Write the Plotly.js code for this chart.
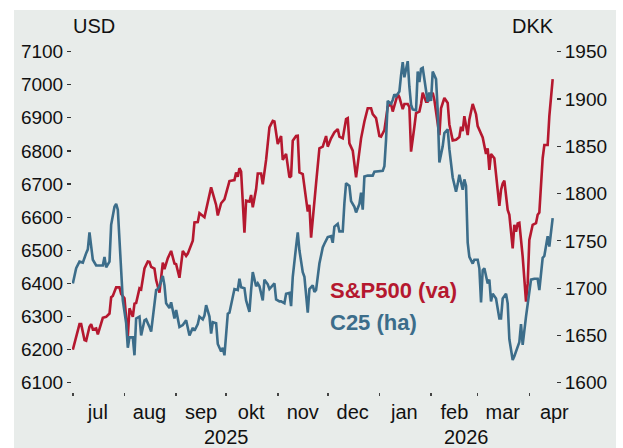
<!DOCTYPE html>
<html>
<head>
<meta charset="utf-8">
<script src="https://cdn.plot.ly/plotly-3.0.1.min.js"></script>
<style>html,body{margin:0;padding:0;background:#fff;}#chart{width:623px;height:448px;}</style>
</head>
<body>
<div id="chart"></div>
<script>
// ---- data ----
const spDates = ["2025-07-01","2025-07-05","2025-07-06","2025-07-08","2025-07-09","2025-07-11","2025-07-12","2025-07-13","2025-07-15","2025-07-16","2025-07-19","2025-07-21","2025-07-23","2025-07-24","2025-07-25","2025-07-27","2025-07-29","2025-07-30","2025-08-01","2025-08-03","2025-08-04","2025-08-06","2025-08-07","2025-08-08","2025-08-10","2025-08-11","2025-08-13","2025-08-15","2025-08-16","2025-08-17","2025-08-19","2025-08-20","2025-08-22","2025-08-24","2025-08-25","2025-08-27","2025-08-29","2025-08-31","2025-09-01","2025-09-03","2025-09-05","2025-09-07","2025-09-08","2025-09-11","2025-09-12","2025-09-14","2025-09-15","2025-09-17","2025-09-18","2025-09-22","2025-09-24","2025-09-25","2025-09-26","2025-09-28","2025-09-30","2025-10-02","2025-10-03","2025-10-06","2025-10-07","2025-10-08","2025-10-09","2025-10-10","2025-10-12","2025-10-13","2025-10-15","2025-10-16","2025-10-17","2025-10-19","2025-10-20","2025-10-22","2025-10-23","2025-10-25","2025-10-27","2025-10-29","2025-10-30","2025-11-01","2025-11-03","2025-11-04","2025-11-06","2025-11-08","2025-11-09","2025-11-10","2025-11-12","2025-11-13","2025-11-14","2025-11-16","2025-11-18","2025-11-19","2025-11-20","2025-11-21","2025-11-24","2025-11-26","2025-11-28","2025-11-30","2025-12-01","2025-12-03","2025-12-05","2025-12-07","2025-12-08","2025-12-10","2025-12-12","2025-12-13","2025-12-14","2025-12-16","2025-12-18","2025-12-21","2025-12-23","2025-12-25","2025-12-27","2025-12-28","2025-12-30","2026-01-01","2026-01-02","2026-01-04","2026-01-06","2026-01-08","2026-01-09","2026-01-10","2026-01-12","2026-01-13","2026-01-15","2026-01-16","2026-01-18","2026-01-19","2026-01-20","2026-01-22","2026-01-23","2026-01-25","2026-01-26","2026-01-27","2026-01-29","2026-01-30","2026-01-31","2026-02-02","2026-02-03","2026-02-05","2026-02-06","2026-02-07","2026-02-09","2026-02-11","2026-02-12","2026-02-14","2026-02-16","2026-02-18","2026-02-19","2026-02-20","2026-02-21","2026-02-23","2026-02-24","2026-02-26","2026-02-28","2026-03-01","2026-03-03","2026-03-04","2026-03-06","2026-03-07","2026-03-08","2026-03-09","2026-03-11","2026-03-12","2026-03-14","2026-03-15","2026-03-16","2026-03-17","2026-03-19","2026-03-20","2026-03-22","2026-03-23","2026-03-24","2026-03-25","2026-03-26","2026-03-28","2026-03-29","2026-03-30","2026-03-31","2026-04-01","2026-04-03","2026-04-05","2026-04-06","2026-04-07","2026-04-09","2026-04-10","2026-04-12","2026-04-13","2026-04-15"];
const spValues = [6200,6277,6277,6229,6227,6269,6277,6261,6264,6246,6296,6299,6309,6358,6362,6388,6388,6368,6355,6239,6325,6299,6339,6341,6385,6382,6445,6466,6465,6450,6445,6410,6372,6463,6443,6476,6498,6460,6458,6417,6498,6483,6490,6529,6584,6585,6612,6605,6600,6690,6652,6637,6605,6642,6654,6692,6709,6712,6735,6722,6748,6738,6553,6650,6647,6667,6630,6684,6732,6732,6699,6773,6871,6891,6889,6821,6845,6773,6791,6720,6724,6831,6845,6846,6735,6730,6657,6617,6637,6538,6702,6808,6813,6845,6813,6838,6856,6866,6843,6838,6896,6899,6823,6801,6720,6838,6889,6929,6929,6911,6899,6845,6843,6863,6934,6942,6919,6939,6972,6962,6926,6942,6942,6932,6798,6873,6914,6919,6942,6976,6949,6949,6956,6976,6954,6883,6848,6929,6960,6945,6880,6832,6834,6842,6873,6860,6905,6848,6895,6942,6911,6875,6848,6841,6791,6808,6743,6791,6778,6735,6634,6682,6702,6710,6622,6607,6506,6577,6556,6581,6583,6481,6400,6345,6400,6531,6577,6582,6607,6614,6778,6818,6818,6905,7017];

const c25Dates = ["2025-07-01","2025-07-03","2025-07-05","2025-07-07","2025-07-09","2025-07-10","2025-07-11","2025-07-12","2025-07-13","2025-07-15","2025-07-17","2025-07-19","2025-07-20","2025-07-21","2025-07-23","2025-07-24","2025-07-26","2025-07-27","2025-07-28","2025-07-30","2025-07-31","2025-08-02","2025-08-03","2025-08-04","2025-08-06","2025-08-07","2025-08-08","2025-08-10","2025-08-11","2025-08-13","2025-08-14","2025-08-16","2025-08-17","2025-08-20","2025-08-21","2025-08-22","2025-08-24","2025-08-25","2025-08-26","2025-08-28","2025-08-29","2025-08-31","2025-09-01","2025-09-03","2025-09-05","2025-09-07","2025-09-09","2025-09-11","2025-09-12","2025-09-14","2025-09-15","2025-09-17","2025-09-18","2025-09-19","2025-09-21","2025-09-22","2025-09-23","2025-09-25","2025-09-26","2025-09-28","2025-09-29","2025-09-30","2025-10-02","2025-10-03","2025-10-05","2025-10-06","2025-10-08","2025-10-09","2025-10-10","2025-10-12","2025-10-13","2025-10-15","2025-10-16","2025-10-17","2025-10-19","2025-10-20","2025-10-21","2025-10-23","2025-10-24","2025-10-26","2025-10-27","2025-10-29","2025-10-30","2025-10-31","2025-11-02","2025-11-03","2025-11-05","2025-11-06","2025-11-08","2025-11-09","2025-11-10","2025-11-12","2025-11-13","2025-11-14","2025-11-16","2025-11-17","2025-11-19","2025-11-20","2025-11-22","2025-11-23","2025-11-24","2025-11-26","2025-11-28","2025-11-29","2025-12-01","2025-12-03","2025-12-04","2025-12-05","2025-12-07","2025-12-08","2025-12-10","2025-12-11","2025-12-12","2025-12-14","2025-12-15","2025-12-17","2025-12-18","2025-12-20","2025-12-21","2025-12-22","2025-12-23","2025-12-25","2025-12-28","2025-12-29","2026-01-01","2026-01-03","2026-01-04","2026-01-05","2026-01-06","2026-01-08","2026-01-09","2026-01-10","2026-01-11","2026-01-13","2026-01-14","2026-01-15","2026-01-16","2026-01-17","2026-01-18","2026-01-19","2026-01-20","2026-01-21","2026-01-23","2026-01-24","2026-01-25","2026-01-26","2026-01-27","2026-01-29","2026-01-30","2026-01-31","2026-02-01","2026-02-02","2026-02-04","2026-02-05","2026-02-06","2026-02-08","2026-02-09","2026-02-11","2026-02-12","2026-02-14","2026-02-16","2026-02-17","2026-02-18","2026-02-20","2026-02-21","2026-02-22","2026-02-23","2026-02-24","2026-02-26","2026-02-27","2026-03-01","2026-03-02","2026-03-03","2026-03-04","2026-03-05","2026-03-07","2026-03-08","2026-03-09","2026-03-10","2026-03-12","2026-03-13","2026-03-14","2026-03-15","2026-03-16","2026-03-18","2026-03-19","2026-03-20","2026-03-22","2026-03-23","2026-03-24","2026-03-26","2026-03-27","2026-03-28","2026-03-30","2026-03-31","2026-04-02","2026-04-04","2026-04-06","2026-04-07","2026-04-09","2026-04-10","2026-04-12","2026-04-13","2026-04-14","2026-04-15"];
const c25Values = [1705,1721,1728,1727,1737,1741,1759,1746,1730,1724,1724,1724,1733,1722,1728,1767,1786,1789,1783,1719,1687,1663,1637,1648,1648,1629,1668,1670,1650,1666,1667,1659,1654,1698,1699,1702,1713,1703,1684,1679,1685,1668,1677,1659,1661,1666,1650,1658,1655,1662,1670,1667,1671,1682,1670,1652,1664,1663,1641,1633,1637,1629,1673,1674,1693,1699,1698,1710,1701,1700,1687,1675,1698,1717,1702,1705,1702,1687,1709,1704,1699,1703,1705,1688,1686,1686,1684,1694,1695,1681,1712,1744,1759,1740,1717,1712,1674,1699,1703,1696,1698,1726,1743,1747,1754,1755,1748,1765,1768,1760,1760,1790,1811,1808,1792,1786,1780,1789,1801,1783,1818,1819,1819,1823,1824,1824,1829,1857,1898,1895,1899,1905,1903,1908,1925,1939,1923,1932,1940,1913,1894,1889,1888,1929,1918,1932,1933,1909,1897,1907,1898,1929,1921,1888,1833,1850,1864,1868,1847,1817,1802,1810,1820,1804,1815,1808,1748,1733,1726,1730,1730,1721,1685,1719,1721,1705,1709,1686,1694,1689,1677,1668,1668,1689,1694,1684,1646,1624,1628,1633,1643,1662,1640,1670,1684,1709,1710,1710,1698,1732,1734,1755,1744,1760,1774];

const monthTickVals = ["2025-07-16","2025-08-16","2025-09-16","2025-10-16","2025-11-16","2025-12-16","2026-01-16","2026-02-15","2026-03-16","2026-04-16"];
const monthLabels = ["jul","aug","sep","okt","nov","dec","jan","feb","mar","apr"];
const monthStarts = ["2025-07-01","2025-08-01","2025-09-01","2025-10-01","2025-11-01","2025-12-01","2026-01-01","2026-02-01","2026-03-01","2026-04-01"];
const yearLabels = ["2025","2026"];
const yearPositions = ["2025-10-01","2026-02-22"];
const leftTicks = [6100,6200,6300,6400,6500,6600,6700,6800,6900,7000,7100];
const rightTicks = [1600,1650,1700,1750,1800,1850,1900,1950];
const seriesNames = ["S&P500 (va)","C25 (ha)"];
const unitLeft = "USD", unitRight = "DKK";

// ---- style ----
const RED = "#b5182f", BLUE = "#3c6d8a", BG = "#e8ecea", TXT = "#111111";
const FONT = "Liberation Sans, Arial, sans-serif";
const W = 623, H = 448, M = {l:72, r:67, t:45, b:56};
const pw = W - M.l - M.r, ph = H - M.t - M.b;
const px = v => (v - M.l) / pw;          // pixel x -> paper x
const py = v => (H - M.b - v) / ph;      // pixel y -> paper y
const xRange = ["2025-06-30 12:00","2026-04-17"];

const traces = [
  {x: spDates, y: spValues, type: "scatter", mode: "lines", name: seriesNames[0],
   line: {color: RED, width: 2.6}, xaxis: "x", yaxis: "y", hoverinfo: "skip"},
  {x: c25Dates, y: c25Values, type: "scatter", mode: "lines", name: seriesNames[1],
   line: {color: BLUE, width: 2.6}, xaxis: "x", yaxis: "y2", hoverinfo: "skip"}
];

const tickFont = {family: FONT, size: 19, color: TXT};
const layout = {
  width: W, height: H, margin: M,
  paper_bgcolor: "#ffffff", plot_bgcolor: BG, showlegend: false,
  xaxis: {type: "date", range: xRange, tickvals: monthTickVals, ticktext: monthLabels,
          ticks: "", showgrid: false, zeroline: false, showline: false,
          tickfont: {family: FONT, size: 20, color: TXT}, ticklabelstandoff: 6},
  xaxis2: {type: "date", range: xRange, overlaying: "x", side: "bottom", tickvals: monthStarts,
           showticklabels: false, ticks: "outside", ticklen: 3, tickwidth: 1.5, tickcolor: "#444",
           showgrid: false, zeroline: false, showline: false},
  yaxis: {range: [6072, 7120], tickvals: leftTicks, ticks: "outside", ticklen: 4, tickwidth: 1.2,
          tickcolor: "#333", showgrid: false, zeroline: false, showline: false, tickfont: tickFont},
  yaxis2: {range: [1590.2, 1957.1], tickvals: rightTicks, overlaying: "y", side: "right",
           ticks: "outside", ticklen: 4, tickwidth: 1.2, tickcolor: "#333",
           showgrid: false, zeroline: false, showline: false, tickfont: tickFont},
  shapes: [
    {type: "rect", xref: "paper", yref: "paper", x0: px(14), x1: px(616), y0: py(470), y1: py(10),
     fillcolor: BG, line: {width: 0}, layer: "below"}
  ],
  annotations: [
    {xref: "paper", yref: "paper", x: px(71), y: py(26), xanchor: "left", yanchor: "middle",
     text: unitLeft, showarrow: false, font: {family: FONT, size: 20, color: TXT}},
    {xref: "paper", yref: "paper", x: px(556), y: py(26), xanchor: "right", yanchor: "middle",
     text: unitRight, showarrow: false, font: {family: FONT, size: 20, color: TXT}},
    {xref: "paper", yref: "paper", x: px(328), y: py(290), xanchor: "left", yanchor: "middle",
     text: "<b>" + seriesNames[0] + "</b>", showarrow: false, font: {family: FONT, size: 22, color: RED}},
    {xref: "paper", yref: "paper", x: px(328), y: py(322), xanchor: "left", yanchor: "middle",
     text: "<b>" + seriesNames[1] + "</b>", showarrow: false, font: {family: FONT, size: 22, color: BLUE}}
  ]
};
yearLabels.forEach((t, i) => layout.annotations.push({
  xref: "x", yref: "paper", x: yearPositions[i], y: py(437), xanchor: "center", yanchor: "middle",
  text: t, showarrow: false, font: {family: FONT, size: 20, color: TXT}}));

// dummy trace to activate xaxis2
traces.push({x: [xRange[0]], y: [6072], xaxis: "x2", yaxis: "y", mode: "markers",
  marker: {opacity: 0}, hoverinfo: "skip", showlegend: false});

Plotly.newPlot("chart", traces, layout, {staticPlot: true, displayModeBar: false});
</script>
</body>
</html>
